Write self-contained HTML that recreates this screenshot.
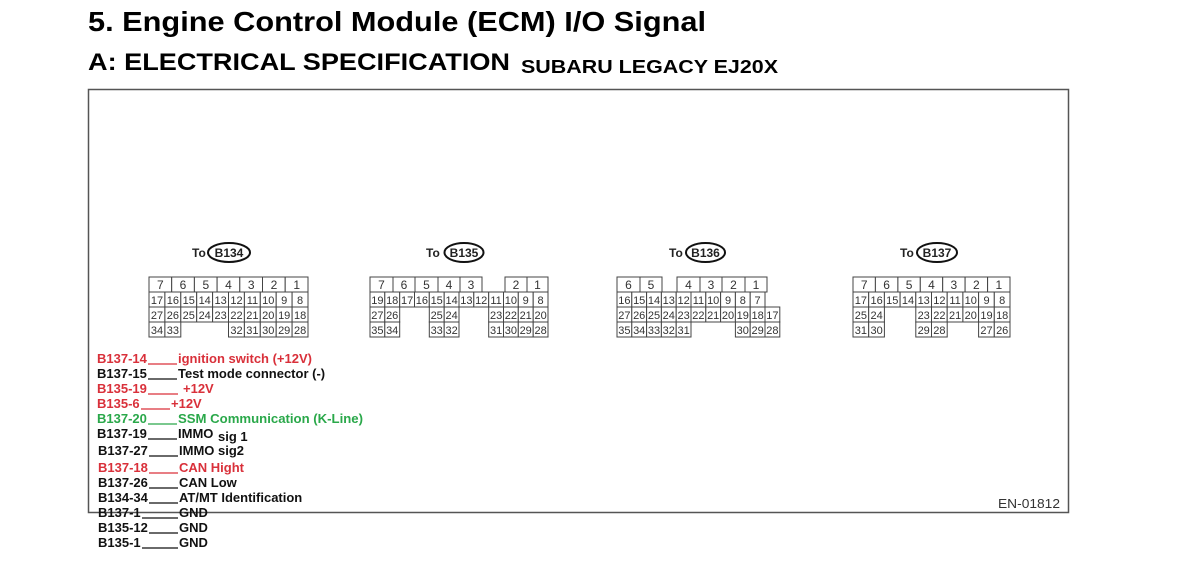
<!DOCTYPE html>
<html><head><meta charset="utf-8"><style>
html,body{margin:0;padding:0;background:#fff;}
svg{display:block;font-family:"Liberation Sans",Arial,sans-serif;}
.c rect{fill:#fff;stroke:#444;stroke-width:1;}
.c text{font-size:11px;text-anchor:middle;fill:#333;}
.c .t{font-size:12px;}
.l{font-size:13px;font-weight:bold;}
.r{fill:#d9303a;}.g{fill:#2aa84a;}.k{fill:#111;}
.u line{stroke-width:1.2;}
</style></head><body>
<svg width="1200" height="587" viewBox="0 0 1200 587">
<text x="88" y="31" font-size="28" font-weight="bold" textLength="618" lengthAdjust="spacingAndGlyphs">5.  Engine Control Module (ECM) I/O Signal</text>
<text x="88" y="70" font-size="24" font-weight="bold" textLength="422" lengthAdjust="spacingAndGlyphs">A:  ELECTRICAL SPECIFICATION</text>
<text x="521" y="73" font-size="18" font-weight="bold" textLength="257" lengthAdjust="spacingAndGlyphs">SUBARU LEGACY EJ20X</text>
<rect x="88.5" y="89.5" width="980" height="423" fill="none" stroke="#555" stroke-width="1.5"/>
<text x="998" y="508" font-size="13" fill="#333" textLength="62" lengthAdjust="spacingAndGlyphs">EN-01812</text>

<g font-size="12" font-weight="bold" fill="#222">
<text x="192" y="257">To</text><ellipse cx="229" cy="252.5" rx="21" ry="9.5" fill="none" stroke="#111" stroke-width="2"/><text x="229" y="257" text-anchor="middle">B134</text>
<text x="426" y="257">To</text><ellipse cx="464" cy="252.5" rx="19.5" ry="9.5" fill="none" stroke="#111" stroke-width="2"/><text x="464" y="257" text-anchor="middle">B135</text>
<text x="669" y="257">To</text><ellipse cx="705.5" cy="252.5" rx="19.5" ry="9.5" fill="none" stroke="#111" stroke-width="2"/><text x="705.5" y="257" text-anchor="middle">B136</text>
<text x="900" y="257">To</text><ellipse cx="937" cy="252.5" rx="20" ry="9.5" fill="none" stroke="#111" stroke-width="2"/><text x="937" y="257" text-anchor="middle">B137</text>
</g>

<!-- B134 -->
<g class="c">
<rect x="149" y="277" width="22.7" height="15"/><rect x="171.7" y="277" width="22.7" height="15"/><rect x="194.4" y="277" width="22.7" height="15"/><rect x="217.1" y="277" width="22.7" height="15"/><rect x="239.8" y="277" width="22.7" height="15"/><rect x="262.5" y="277" width="22.7" height="15"/><rect x="285.2" y="277" width="22.8" height="15"/>
<text class="t" x="160.4" y="289">7</text><text class="t" x="183" y="289">6</text><text class="t" x="205.8" y="289">5</text><text class="t" x="228.5" y="289">4</text><text class="t" x="251.2" y="289">3</text><text class="t" x="274" y="289">2</text><text class="t" x="296.7" y="289">1</text>
<rect x="149" y="292" width="15.9" height="15"/><rect x="164.9" y="292" width="15.9" height="15"/><rect x="180.8" y="292" width="15.9" height="15"/><rect x="196.7" y="292" width="15.9" height="15"/><rect x="212.6" y="292" width="15.9" height="15"/><rect x="228.5" y="292" width="15.9" height="15"/><rect x="244.4" y="292" width="15.9" height="15"/><rect x="260.3" y="292" width="15.9" height="15"/><rect x="276.2" y="292" width="15.9" height="15"/><rect x="292.1" y="292" width="15.9" height="15"/>
<text x="157" y="304">17</text><text x="172.9" y="304">16</text><text x="188.8" y="304">15</text><text x="204.7" y="304">14</text><text x="220.6" y="304">13</text><text x="236.5" y="304">12</text><text x="252.4" y="304">11</text><text x="268.3" y="304">10</text><text x="284.2" y="304">9</text><text x="300.1" y="304">8</text>
<rect x="149" y="307" width="15.9" height="15"/><rect x="164.9" y="307" width="15.9" height="15"/><rect x="180.8" y="307" width="15.9" height="15"/><rect x="196.7" y="307" width="15.9" height="15"/><rect x="212.6" y="307" width="15.9" height="15"/><rect x="228.5" y="307" width="15.9" height="15"/><rect x="244.4" y="307" width="15.9" height="15"/><rect x="260.3" y="307" width="15.9" height="15"/><rect x="276.2" y="307" width="15.9" height="15"/><rect x="292.1" y="307" width="15.9" height="15"/>
<text x="157" y="319">27</text><text x="172.9" y="319">26</text><text x="188.8" y="319">25</text><text x="204.7" y="319">24</text><text x="220.6" y="319">23</text><text x="236.5" y="319">22</text><text x="252.4" y="319">21</text><text x="268.3" y="319">20</text><text x="284.2" y="319">19</text><text x="300.1" y="319">18</text>
<rect x="149" y="322" width="15.9" height="15"/><rect x="164.9" y="322" width="15.9" height="15"/><rect x="228.5" y="322" width="15.9" height="15"/><rect x="244.4" y="322" width="15.9" height="15"/><rect x="260.3" y="322" width="15.9" height="15"/><rect x="276.2" y="322" width="15.9" height="15"/><rect x="292.1" y="322" width="15.9" height="15"/>
<text x="157" y="334">34</text><text x="172.9" y="334">33</text><text x="236.5" y="334">32</text><text x="252.4" y="334">31</text><text x="268.3" y="334">30</text><text x="284.2" y="334">29</text><text x="300.1" y="334">28</text>
</g>

<!-- B135 -->
<g class="c">
<rect x="370" y="277" width="23" height="15"/><rect x="393" y="277" width="22" height="15"/><rect x="415" y="277" width="23" height="15"/><rect x="438" y="277" width="22" height="15"/><rect x="460" y="277" width="22" height="15"/><rect x="505" y="277" width="22" height="15"/><rect x="527" y="277" width="21" height="15"/>
<text class="t" x="381.5" y="289">7</text><text class="t" x="404" y="289">6</text><text class="t" x="426.5" y="289">5</text><text class="t" x="449" y="289">4</text><text class="t" x="471" y="289">3</text><text class="t" x="516" y="289">2</text><text class="t" x="537.5" y="289">1</text>
<rect x="370" y="292" width="14.8" height="15"/><rect x="384.8" y="292" width="14.9" height="15"/><rect x="399.7" y="292" width="14.8" height="15"/><rect x="414.5" y="292" width="14.8" height="15"/><rect x="429.3" y="292" width="14.9" height="15"/><rect x="444.2" y="292" width="14.8" height="15"/><rect x="459" y="292" width="14.8" height="15"/><rect x="473.8" y="292" width="14.9" height="15"/><rect x="488.7" y="292" width="14.8" height="15"/><rect x="503.5" y="292" width="14.8" height="15"/><rect x="518.3" y="292" width="14.9" height="15"/><rect x="533.2" y="292" width="14.8" height="15"/>
<text x="377.4" y="304">19</text><text x="392.2" y="304">18</text><text x="407.1" y="304">17</text><text x="421.9" y="304">16</text><text x="436.7" y="304">15</text><text x="451.6" y="304">14</text><text x="466.4" y="304">13</text><text x="481.2" y="304">12</text><text x="496.1" y="304">11</text><text x="510.9" y="304">10</text><text x="525.7" y="304">9</text><text x="540.6" y="304">8</text>
<rect x="370" y="307" width="14.8" height="15"/><rect x="384.8" y="307" width="14.9" height="15"/><rect x="429.3" y="307" width="14.9" height="15"/><rect x="444.2" y="307" width="14.8" height="15"/><rect x="488.7" y="307" width="14.8" height="15"/><rect x="503.5" y="307" width="14.8" height="15"/><rect x="518.3" y="307" width="14.9" height="15"/><rect x="533.2" y="307" width="14.8" height="15"/>
<text x="377.4" y="319">27</text><text x="392.2" y="319">26</text><text x="436.7" y="319">25</text><text x="451.6" y="319">24</text><text x="496.1" y="319">23</text><text x="510.9" y="319">22</text><text x="525.7" y="319">21</text><text x="540.6" y="319">20</text>
<rect x="370" y="322" width="14.8" height="15"/><rect x="384.8" y="322" width="14.9" height="15"/><rect x="429.3" y="322" width="14.9" height="15"/><rect x="444.2" y="322" width="14.8" height="15"/><rect x="488.7" y="322" width="14.8" height="15"/><rect x="503.5" y="322" width="14.8" height="15"/><rect x="518.3" y="322" width="14.9" height="15"/><rect x="533.2" y="322" width="14.8" height="15"/>
<text x="377.4" y="334">35</text><text x="392.2" y="334">34</text><text x="436.7" y="334">33</text><text x="451.6" y="334">32</text><text x="496.1" y="334">31</text><text x="510.9" y="334">30</text><text x="525.7" y="334">29</text><text x="540.6" y="334">28</text>
</g>

<!-- B136 -->
<g class="c">
<rect x="617" y="277" width="23" height="15"/><rect x="640" y="277" width="22" height="15"/><rect x="677" y="277" width="23" height="15"/><rect x="700" y="277" width="22" height="15"/><rect x="722" y="277" width="23" height="15"/><rect x="745" y="277" width="22" height="15"/>
<text class="t" x="628.5" y="289">6</text><text class="t" x="651" y="289">5</text><text class="t" x="688.5" y="289">4</text><text class="t" x="711" y="289">3</text><text class="t" x="733.5" y="289">2</text><text class="t" x="756" y="289">1</text>
<rect x="617" y="292" width="14.8" height="15"/><rect x="631.8" y="292" width="14.8" height="15"/><rect x="646.6" y="292" width="14.8" height="15"/><rect x="661.4" y="292" width="14.8" height="15"/><rect x="676.2" y="292" width="14.8" height="15"/><rect x="691" y="292" width="14.8" height="15"/><rect x="705.8" y="292" width="14.8" height="15"/><rect x="720.6" y="292" width="14.8" height="15"/><rect x="735.4" y="292" width="14.8" height="15"/><rect x="750.2" y="292" width="14.8" height="15"/>
<text x="624.4" y="304">16</text><text x="639.2" y="304">15</text><text x="654" y="304">14</text><text x="668.8" y="304">13</text><text x="683.6" y="304">12</text><text x="698.4" y="304">11</text><text x="713.2" y="304">10</text><text x="728" y="304">9</text><text x="742.8" y="304">8</text><text x="757.6" y="304">7</text>
<rect x="617" y="307" width="14.8" height="15"/><rect x="631.8" y="307" width="14.8" height="15"/><rect x="646.6" y="307" width="14.8" height="15"/><rect x="661.4" y="307" width="14.8" height="15"/><rect x="676.2" y="307" width="14.8" height="15"/><rect x="691" y="307" width="14.8" height="15"/><rect x="705.8" y="307" width="14.8" height="15"/><rect x="720.6" y="307" width="14.8" height="15"/><rect x="735.4" y="307" width="14.8" height="15"/><rect x="750.2" y="307" width="14.8" height="15"/><rect x="765" y="307" width="14.8" height="15"/>
<text x="624.4" y="319">27</text><text x="639.2" y="319">26</text><text x="654" y="319">25</text><text x="668.8" y="319">24</text><text x="683.6" y="319">23</text><text x="698.4" y="319">22</text><text x="713.2" y="319">21</text><text x="728" y="319">20</text><text x="742.8" y="319">19</text><text x="757.6" y="319">18</text><text x="772.4" y="319">17</text>
<rect x="617" y="322" width="14.8" height="15"/><rect x="631.8" y="322" width="14.8" height="15"/><rect x="646.6" y="322" width="14.8" height="15"/><rect x="661.4" y="322" width="14.8" height="15"/><rect x="676.2" y="322" width="14.8" height="15"/><rect x="735.4" y="322" width="14.8" height="15"/><rect x="750.2" y="322" width="14.8" height="15"/><rect x="765" y="322" width="14.8" height="15"/>
<text x="624.4" y="334">35</text><text x="639.2" y="334">34</text><text x="654" y="334">33</text><text x="668.8" y="334">32</text><text x="683.6" y="334">31</text><text x="742.8" y="334">30</text><text x="757.6" y="334">29</text><text x="772.4" y="334">28</text>
</g>

<!-- B137 -->
<g class="c">
<rect x="853" y="277" width="22.4" height="15"/><rect x="875.4" y="277" width="22.5" height="15"/><rect x="897.9" y="277" width="22.4" height="15"/><rect x="920.3" y="277" width="22.4" height="15"/><rect x="942.7" y="277" width="22.4" height="15"/><rect x="965.1" y="277" width="22.5" height="15"/><rect x="987.6" y="277" width="22.4" height="15"/>
<text class="t" x="864.2" y="289">7</text><text class="t" x="886.6" y="289">6</text><text class="t" x="909.1" y="289">5</text><text class="t" x="931.5" y="289">4</text><text class="t" x="953.9" y="289">3</text><text class="t" x="976.3" y="289">2</text><text class="t" x="998.8" y="289">1</text>
<rect x="853" y="292" width="15.7" height="15"/><rect x="868.7" y="292" width="15.7" height="15"/><rect x="884.4" y="292" width="15.7" height="15"/><rect x="900.1" y="292" width="15.7" height="15"/><rect x="915.8" y="292" width="15.7" height="15"/><rect x="931.5" y="292" width="15.7" height="15"/><rect x="947.2" y="292" width="15.7" height="15"/><rect x="962.9" y="292" width="15.7" height="15"/><rect x="978.6" y="292" width="15.7" height="15"/><rect x="994.3" y="292" width="15.7" height="15"/>
<text x="860.9" y="304">17</text><text x="876.6" y="304">16</text><text x="892.3" y="304">15</text><text x="908" y="304">14</text><text x="923.7" y="304">13</text><text x="939.4" y="304">12</text><text x="955.1" y="304">11</text><text x="970.8" y="304">10</text><text x="986.5" y="304">9</text><text x="1002.2" y="304">8</text>
<rect x="853" y="307" width="15.7" height="15"/><rect x="868.7" y="307" width="15.7" height="15"/><rect x="915.8" y="307" width="15.7" height="15"/><rect x="931.5" y="307" width="15.7" height="15"/><rect x="947.2" y="307" width="15.7" height="15"/><rect x="962.9" y="307" width="15.7" height="15"/><rect x="978.6" y="307" width="15.7" height="15"/><rect x="994.3" y="307" width="15.7" height="15"/>
<text x="860.9" y="319">25</text><text x="876.6" y="319">24</text><text x="923.7" y="319">23</text><text x="939.4" y="319">22</text><text x="955.1" y="319">21</text><text x="970.8" y="319">20</text><text x="986.5" y="319">19</text><text x="1002.2" y="319">18</text>
<rect x="853" y="322" width="15.7" height="15"/><rect x="868.7" y="322" width="15.7" height="15"/><rect x="915.8" y="322" width="15.7" height="15"/><rect x="931.5" y="322" width="15.7" height="15"/><rect x="978.6" y="322" width="15.7" height="15"/><rect x="994.3" y="322" width="15.7" height="15"/>
<text x="860.9" y="334">31</text><text x="876.6" y="334">30</text><text x="923.7" y="334">29</text><text x="939.4" y="334">28</text><text x="986.5" y="334">27</text><text x="1002.2" y="334">26</text>
</g>

<!-- pin list -->
<g class="l">
<text class="r" x="97" y="363">B137-14</text><text class="r" x="178" y="363">ignition switch (+12V)</text>
<text class="k" x="97" y="378">B137-15</text><text class="k" x="178" y="378">Test mode connector (-)</text>
<text class="r" x="97" y="393">B135-19</text><text class="r" x="183" y="393">+12V</text>
<text class="r" x="97" y="408">B135-6</text><text class="r" x="171" y="408">+12V</text>
<text class="g" x="97" y="423">B137-20</text><text class="g" x="178" y="423" textLength="185" lengthAdjust="spacingAndGlyphs">SSM Communication (K-Line)</text>
<text class="k" x="97" y="438">B137-19</text><text class="k" x="178" y="438">IMMO</text><text class="k" x="218" y="441">sig 1</text>
<text class="k" x="98" y="455">B137-27</text><text class="k" x="179" y="455">IMMO sig2</text>
<text class="r" x="98" y="472">B137-18</text><text class="r" x="179" y="472">CAN Hight</text>
<text class="k" x="98" y="487">B137-26</text><text class="k" x="179" y="487">CAN Low</text>
<text class="k" x="98" y="502">B134-34</text><text class="k" x="179" y="502">AT/MT Identification</text>
<text class="k" x="98" y="517">B137-1</text><text class="k" x="179" y="517">GND</text>
<text class="k" x="98" y="532">B135-12</text><text class="k" x="179" y="532">GND</text>
<text class="k" x="98" y="547">B135-1</text><text class="k" x="179" y="547">GND</text>
</g>
<g class="u">
<line x1="148" y1="364" x2="177" y2="364" stroke="#d9303a"/>
<line x1="148" y1="379" x2="177" y2="379" stroke="#111"/>
<line x1="148" y1="394" x2="178" y2="394" stroke="#d9303a"/>
<line x1="141" y1="409" x2="170" y2="409" stroke="#d9303a"/>
<line x1="148" y1="424" x2="177" y2="424" stroke="#2aa84a"/>
<line x1="148" y1="439" x2="177" y2="439" stroke="#111"/>
<line x1="149" y1="456" x2="178" y2="456" stroke="#111"/>
<line x1="149" y1="473" x2="178" y2="473" stroke="#d9303a"/>
<line x1="149" y1="488" x2="178" y2="488" stroke="#111"/>
<line x1="149" y1="503" x2="178" y2="503" stroke="#111"/>
<line x1="142" y1="518" x2="178" y2="518" stroke="#111"/>
<line x1="149" y1="533" x2="178" y2="533" stroke="#111"/>
<line x1="142" y1="548" x2="178" y2="548" stroke="#111"/>
</g>
</svg>
</body></html>
